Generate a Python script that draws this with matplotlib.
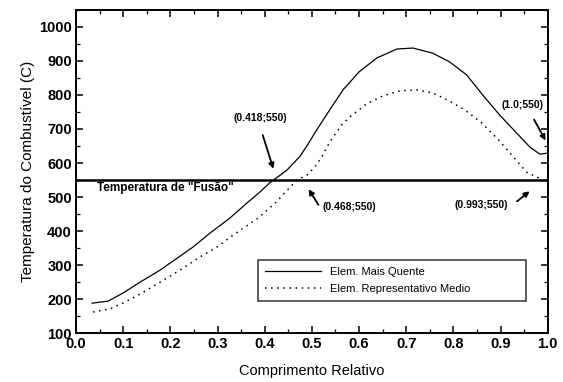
import matplotlib
matplotlib.use("Agg")
import matplotlib.pyplot as plt
from matplotlib.ticker import MultipleLocator

plt.rcParams['font.family'] = ['Liberation Sans', 'DejaVu Sans']

# curves
x_quente = [0.034, 0.068, 0.10, 0.136, 0.178, 0.214, 0.248, 0.284, 0.326, 0.362, 0.39, 0.41,
            0.447, 0.475, 0.492, 0.51, 0.542, 0.566, 0.60, 0.638, 0.68, 0.714, 0.756, 0.792,
            0.828, 0.862, 0.898, 0.934, 0.962, 0.983, 1.0]
y_quente = [188, 194, 218, 250, 285, 320, 353, 394, 438, 482, 515, 541,
            579, 620, 656, 697, 765, 815, 868, 909, 935, 938, 923, 897,
            859, 800, 741, 688, 647, 626, 629]

x_medio = [0.036, 0.072, 0.104, 0.14, 0.193, 0.227, 0.263, 0.299, 0.333, 0.352, 0.386, 0.422,
           0.468, 0.49, 0.506, 0.521, 0.538, 0.563, 0.58, 0.616, 0.65, 0.686, 0.722, 0.756,
           0.788, 0.824, 0.86, 0.892, 0.909, 0.955, 0.99]
y_medio = [162, 171, 191, 218, 262, 291, 324, 353, 388, 406, 438, 482,
           550, 565, 588, 618, 662, 712, 735, 774, 797, 812, 815, 806,
           785, 756, 718, 673, 647, 573, 550]

t_fusao = 550

anotacoes = [
    # text, text pos, arrow tail, arrow head
    ("(0.418;550)", (0.39, 732), (0.394, 690), (0.42, 575)),
    ("(0.468;550)", (0.58, 470), (0.517, 470), (0.49, 530)),
    ("(0.993;550)", (0.86, 476), (0.93, 482), (0.966, 522)),
    ("(1.0;550)", (0.947, 770), (0.968, 735), (0.998, 659)),
]

fig = plt.figure(figsize=(5.63, 3.82), dpi=100)
ax = fig.add_axes([0.135, 0.128, 0.838, 0.846])

ax.plot(x_quente, y_quente, color='black', lw=0.9, label='Elem. Mais Quente')
ax.plot(x_medio, y_medio, color='black', lw=1.1, linestyle=(0, (1, 3)),
        label='Elem. Representativo Medio')
ax.axhline(t_fusao, color='black', lw=1.8)
ax.text(0.045, 527, 'Temperatura de "Fusão"', fontsize=8.5, va='center', fontweight='bold')

for txt, tpos, tail, head in anotacoes:
    ax.text(tpos[0], tpos[1], txt, fontsize=7.5, ha='center', va='center', fontweight='bold')
    ax.annotate('', xy=head, xytext=tail,
                arrowprops=dict(arrowstyle='-|>', color='black', lw=1.3, mutation_scale=8))

ax.set_xlim(0.0, 1.0)
ax.set_ylim(100, 1050)
ax.xaxis.set_major_locator(MultipleLocator(0.1))
ax.xaxis.set_minor_locator(MultipleLocator(0.05))
ax.yaxis.set_minor_locator(MultipleLocator(50))
ax.set_yticks(range(100, 1001, 100))
ax.tick_params(which='both', direction='in', top=True, right=True, labelsize=10.5, pad=3)
ax.tick_params(which='major', length=5, width=1.1)
ax.tick_params(which='minor', length=3, width=0.9)
for lab in ax.get_xticklabels() + ax.get_yticklabels():
    lab.set_fontweight('bold')
for s in ax.spines.values():
    s.set_linewidth(1.4)

ax.set_xlabel('Comprimento Relativo', fontsize=10.5, labelpad=9)
ax.set_ylabel('Temperatura do Combustível (C)', fontsize=11, labelpad=3)

leg = ax.legend(loc='upper left', bbox_to_anchor=(0.386, 0.226, 0.568, 0), mode='expand',
                fontsize=8, frameon=True, fancybox=False, edgecolor='black',
                handlelength=5, borderpad=0.65, labelspacing=0.6, borderaxespad=0)
leg.get_frame().set_linewidth(1.1)

fig.savefig('out.png', dpi=100)
